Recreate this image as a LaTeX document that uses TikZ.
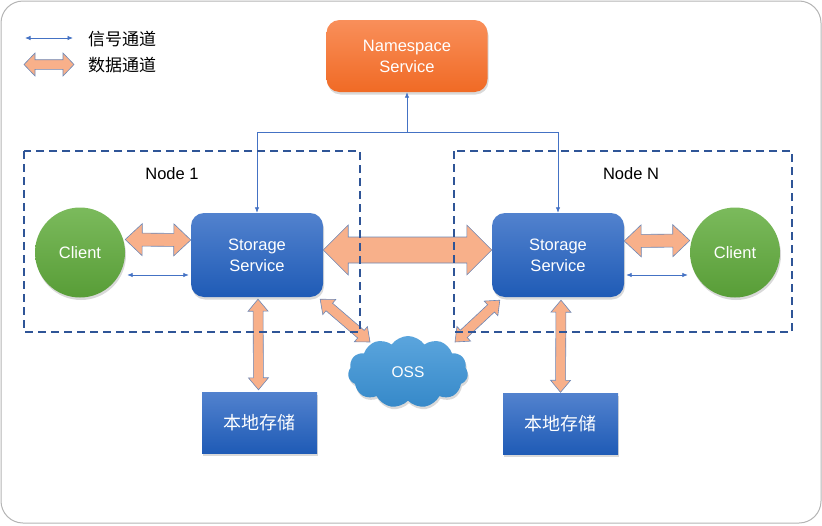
\documentclass[tikz,border=0pt]{standalone}
\usepackage{fontspec}
\setmainfont{Liberation Sans}
\newfontfamily\cjk{Noto Sans CJK SC}
\usetikzlibrary{calc,arrows.meta,shapes.symbols,shadows}
\definecolor{framegray}{HTML}{B4B4B4}
\definecolor{dashblue}{HTML}{2F5597}
\definecolor{sigblue}{HTML}{4472C4}
\definecolor{fatfill}{HTML}{F8B08A}
\definecolor{fatedge}{HTML}{6C87B6}
\definecolor{nstop}{HTML}{F98F5A}
\definecolor{nsbot}{HTML}{F06A25}
\definecolor{sstop}{HTML}{5282CE}
\definecolor{ssbot}{HTML}{1F5BB6}
\definecolor{cltop}{HTML}{7BBA5C}
\definecolor{clbot}{HTML}{589D37}
\definecolor{osstop}{HTML}{5BA5DD}
\definecolor{ossbot}{HTML}{3689C9}
\newcommand\fatarr[5]{%
  \coordinate (fa1) at ($(#1)!#5!(#2)$);
  \coordinate (fa2) at ($(#2)!#5!(#1)$);
  \draw[fatarrow] (#1) -- ($(fa1)!#4!-90:(#2)$) -- ($(fa1)!#3!-90:(#2)$)
    -- ($(fa2)!#3!90:(#1)$) -- ($(fa2)!#4!90:(#1)$) -- (#2)
    -- ($(fa2)!#4!-90:(#1)$) -- ($(fa2)!#3!-90:(#1)$)
    -- ($(fa1)!#3!90:(#2)$) -- ($(fa1)!#4!90:(#2)$) -- cycle;}
\begin{document}
\begin{tikzpicture}[x=1pt,y=-1pt,
  every node/.style={font=\fontsize{16.5}{21}\selectfont},
  fatarrow/.style={draw=fatedge,fill=fatfill,line width=0.6pt,line join=miter},
  sig/.style={draw=sigblue,line width=0.8pt,arrows={-Latex[length=5.5pt,width=4.5pt]}},
  sigboth/.style={draw=sigblue,line width=0.8pt,arrows={Latex[length=5.5pt,width=4.5pt]-Latex[length=5.5pt,width=4.5pt]}},
  shad/.style={drop shadow={opacity=0.3,shadow xshift=1pt,shadow yshift=-2.5pt}},
  nsbox/.style={shad,rounded corners=13pt,top color=nstop,bottom color=nsbot,text=white,
    minimum width=161pt,minimum height=72pt,align=center,draw=none},
  ssbox/.style={shad,rounded corners=13pt,top color=sstop,bottom color=ssbot,text=white,
    minimum width=132pt,minimum height=84pt,align=center,draw=none},
  lsbox/.style={shad,top color=sstop,bottom color=ssbot,text=white,
    minimum width=115pt,minimum height=61pt,draw=none,font=\cjk\fontsize{18}{21}\selectfont},
  clnode/.style={shad,circle,top color=cltop,bottom color=clbot,text=white,
    minimum size=90pt,inner sep=0pt,draw=none},
  ossnode/.style={shad,cloud,cloud puffs=11,cloud puff arc=110,aspect=1.7,
    top color=osstop,bottom color=ossbot,text=white,minimum width=120pt,minimum height=72pt,
    inner sep=0pt,draw=none,font=\fontsize{15.5}{18}\selectfont},
  dashbox/.style={draw=dashblue,line width=1.8pt,dash pattern=on 8pt off 5pt},
  legtext/.style={anchor=west,font=\cjk\fontsize{17}{20}\selectfont,inner sep=0pt}
  ]
\useasboundingbox (0,0) rectangle (822,525);
\draw[framegray,line width=1pt,rounded corners=22pt] (1,1) rectangle (821,523);

% legend
\coordinate (lg1a) at (25,38);
\coordinate (lg1b) at (73,38);
\draw[sigboth] (lg1a) -- (lg1b);
\node[legtext] (lgt1) at (88,39) {信号通道};
\coordinate (lg2a) at (24,64.5);
\coordinate (lg2b) at (74,64.5);
\fatarr{lg2a}{lg2b}{4.8pt}{11.5pt}{11pt}
\node[legtext] (lgt2) at (88,65) {数据通道};

% nodes
\node[nsbox] (ns) at (407,56) {Namespace\\Service};
\node[ssbox] (ss1) at (257,255) {Storage\\Service};
\node[ssbox] (ss2) at (558,255) {Storage\\Service};
\node[clnode] (cl1) at (80,252.5) {Client};
\node[clnode] (cl2) at (735,252.5) {Client};
\node[lsbox] (ls1) at (259.5,422.5) {本地存储};
\node[lsbox] (ls2) at (560.5,424) {本地存储};
\node[ossnode] (oss) at (408,372) {OSS};

% signal lines
\coordinate (bus) at (407,132);
\draw[sig] (bus) -- (ns.south);
\draw[sig] (bus) -| (ss1.north);
\draw[sig] (bus) -| (ss2.north);
\draw[sigboth] ($(cl1.east)+(2,22.5)$) -- ($(ss1.west)+(-2,20)$);
\draw[sigboth] ($(ss2.east)+(2,20)$) -- ($(cl2.west)+(-2,22.5)$);

% data channels
\coordinate (d1a) at ($(cl1.east)+(0,-13)$);
\coordinate (d1b) at ($(ss1.west)+(0,-15)$);
\fatarr{d1a}{d1b}{6.5pt}{16pt}{17pt}
\coordinate (d2a) at ($(ss1.east)+(0,-5)$);
\coordinate (d2b) at ($(ss2.west)+(0,-5)$);
\fatarr{d2a}{d2b}{13pt}{25pt}{25pt}
\coordinate (d3a) at ($(ss2.east)+(0,-14)$);
\coordinate (d3b) at ($(cl2.west)+(0,-12)$);
\fatarr{d3a}{d3b}{6.5pt}{16pt}{17pt}
\coordinate (d4a) at ($(ss1.south)+(1,2)$);
\coordinate (d4b) at ($(ls1.north)+(-1,-2)$);
\fatarr{d4a}{d4b}{5pt}{10pt}{12pt}
\coordinate (d5a) at ($(ss2.south)+(3,3)$);
\coordinate (d5b) at ($(ls2.north)+(0,-1)$);
\fatarr{d5a}{d5b}{5pt}{10pt}{12pt}
\coordinate (d6a) at ($(ss1.south east)+(-3,2)$);
\coordinate (d6b) at ($(oss.center)+(-38,-30)$);
\fatarr{d6a}{d6b}{5pt}{10pt}{12pt}
\coordinate (d7a) at ($(ss2.south west)+(8,3)$);
\coordinate (d7b) at ($(oss.center)+(47,-30)$);
\fatarr{d7a}{d7b}{5pt}{10pt}{12pt}

% node groups
\draw[dashbox] (24,151) rectangle (360,332);
\draw[dashbox] (454,151) rectangle (792,332);
\node (n1) at (172,174) {Node 1};
\node (nN) at (631,174) {Node N};
\end{tikzpicture}
\end{document}
